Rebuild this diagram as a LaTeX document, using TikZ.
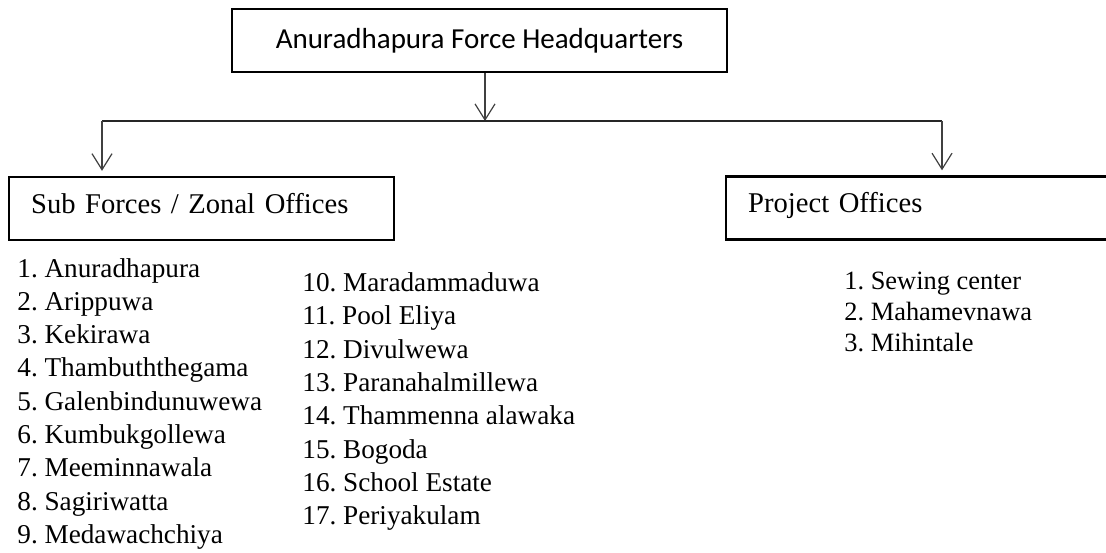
\documentclass[tikz,border=0pt]{standalone}
\usepackage{fontspec}
\setmainfont{Liberation Serif}
\newfontfamily\hqfont{Carlito}
\usetikzlibrary{arrows.meta,calc}
\frenchspacing
\begin{document}
\begin{tikzpicture}[x=0.5pt,y=-0.5pt,
  box/.style={draw=black, line width=1.2pt, rectangle, minimum height=31.5pt, inner ysep=0pt},
  lbox/.style={box, anchor=west, align=left, inner xsep=11pt, text height=9.5pt, text depth=5pt,
               font=\fontsize{14.3}{17}\selectfont},
  conn/.style={draw=black!75, line width=0.6pt, -{Straight Barb[length=8pt,width=10pt]}},
  plain/.style={draw=black!85, line width=0.6pt},
  itemA/.style={inner sep=0pt, anchor=base west, font=\fontsize{13.6}{16}\selectfont},
  itemB/.style={inner sep=0pt, anchor=base west, font=\fontsize{13.2}{15.5}\selectfont}
]
\useasboundingbox (0,0) rectangle (1106,552);
\clip (0,0) rectangle (1106,552);

% boxes
\node[box, minimum width=247.5pt, text height=10pt, text depth=2.5pt,
      font={\hqfont\fontsize{14.5}{17}\selectfont}] (hq) at (479.5,40.5) {Anuradhapura Force Headquarters};
\node[lbox, text width=170.5pt] (sub) at (8,208.5) {Sub Forces / Zonal Offices};
\node[lbox, text width=175.5pt] (proj) at (725,208) {Project Offices};

% connectors
\coordinate (jc) at (485,121);
\coordinate (jl) at (102,121);
\coordinate (jr) at (942,121);
\draw[conn] (jc |- hq.south) -- (jc);
\draw[plain] (jl) -- (jr);
\draw[conn] (jl) -- ([yshift=2.5pt]jl |- sub.north);
\draw[conn] (jr) -- ([yshift=2.5pt]jr |- proj.north);

% lists
\foreach \t [count=\i] in {Anuradhapura, Arippuwa, Kekirawa, Thambuththegama, Galenbindunuwewa,
  Kumbukgollewa, Meeminnawala, Sagiriwatta, Medawachchiya}
  \node[itemA] (a\i) at (17,{277+33.3*(\i-1)}) {\i. \t};
\foreach \t [count=\i from 10] in {Maradammaduwa, Pool Eliya, Divulwewa, Paranahalmillewa,
  Thammenna alawaka, Bogoda, School Estate, Periyakulam}
  \node[itemA] (b\i) at (302,{291.5+33.3*(\i-10)}) {\i. \t};
\foreach \t [count=\i] in {Sewing center, Mahamevnawa, Mihintale}
  \node[itemB] (p\i) at (844,{289+31*(\i-1)}) {\i. \t};
\end{tikzpicture}
\end{document}
